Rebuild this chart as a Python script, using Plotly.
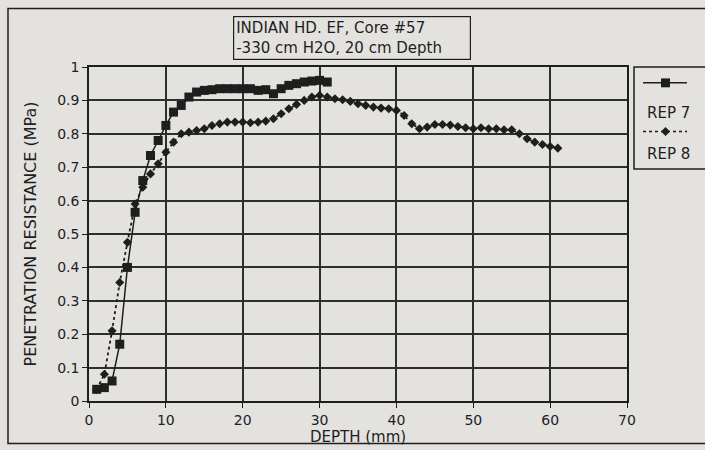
import plotly.graph_objects as go

# ---- data ----
rep7_depth = [1, 2, 3, 4, 5, 6, 7, 8, 9, 10, 11, 12, 13, 14, 15, 16, 17, 18, 19, 20,
              21, 22, 23, 24, 25, 26, 27, 28, 29, 30, 31]
rep7_res = [0.035, 0.04, 0.06, 0.17, 0.40, 0.565, 0.66, 0.735, 0.78, 0.825, 0.865,
            0.885, 0.91, 0.925, 0.93, 0.932, 0.935, 0.935, 0.935, 0.935, 0.935,
            0.93, 0.932, 0.92, 0.935, 0.945, 0.95, 0.955, 0.958, 0.96, 0.955]

rep8_depth = list(range(1, 62))
rep8_res = [0.035, 0.08, 0.21, 0.355, 0.475, 0.59, 0.64, 0.68, 0.71, 0.745,
            0.775, 0.80, 0.805, 0.81, 0.815, 0.825, 0.83, 0.835, 0.835, 0.835,
            0.833, 0.835, 0.838, 0.845, 0.86, 0.875, 0.888, 0.90, 0.91, 0.915,
            0.91, 0.905, 0.902, 0.897, 0.89, 0.885, 0.88, 0.877, 0.875, 0.87,
            0.855, 0.83, 0.815, 0.82, 0.828, 0.828, 0.826, 0.822, 0.818, 0.815,
            0.818, 0.815, 0.815, 0.812, 0.812, 0.80, 0.785, 0.775, 0.768, 0.762,
            0.757]

series_names = ["REP 7", "REP 8"]
title_lines = ["INDIAN HD. EF, Core #57", "-330 cm H2O, 20 cm Depth"]
x_title = "DEPTH (mm)"
y_title = "PENETRATION RESISTANCE (MPa)"

BG = "#e4e2de"
INK = "#1e1e1e"
FONT = "DejaVu Sans"

fig = go.Figure()
fig.add_trace(go.Scatter(x=rep7_depth, y=rep7_res, mode="lines+markers",
                         name=series_names[0],
                         line=dict(color=INK, width=1.5),
                         marker=dict(symbol="square", size=9, color=INK)))
fig.add_trace(go.Scatter(x=rep8_depth, y=rep8_res, mode="lines+markers",
                         name=series_names[1],
                         line=dict(color=INK, width=1.8, dash="dot"),
                         marker=dict(symbol="diamond", size=7, color=INK)))

# plot area pixel geometry
L, R, T, B = 89, 627, 67, 404
W, H = 705, 450
def px(x):
    return (x - L) / (R - L)
def py(y):
    return (B - y) / (B - T)

shapes = []
# outer frame
shapes.append(dict(type="rect", xref="paper", yref="paper",
                   x0=px(8), x1=px(712), y0=py(447), y1=py(8),
                   line=dict(color=INK, width=1.5)))
# legend box
shapes.append(dict(type="rect", xref="paper", yref="paper",
                   x0=px(634), x1=px(712), y0=py(170), y1=py(67),
                   line=dict(color=INK, width=1.5)))
# legend samples
shapes.append(dict(type="line", xref="paper", yref="paper",
                   x0=px(643), x1=px(687), y0=py(83), y1=py(83),
                   line=dict(color=INK, width=1.5)))
shapes.append(dict(type="rect", xref="paper", yref="paper",
                   x0=px(661), x1=px(670), y0=py(87.5), y1=py(78.5),
                   fillcolor=INK, line=dict(color=INK, width=0)))
shapes.append(dict(type="line", xref="paper", yref="paper",
                   x0=px(643), x1=px(687), y0=py(132), y1=py(132),
                   line=dict(color=INK, width=1.5, dash="dot")))
shapes.append(dict(type="path", xref="paper", yref="paper",
                   path="M {a},{b} L {c},{d} L {a},{e} L {f},{d} Z".format(
                       a=px(665.5), b=py(127.5), c=px(670), d=py(132), e=py(136.5), f=px(661)),
                   fillcolor=INK, line=dict(color=INK, width=0)))

annotations = [
    dict(text="<br>".join(title_lines), xref="paper", yref="paper",
         x=px(352), y=py(38), xanchor="center", yanchor="middle", showarrow=False,
         font=dict(family=FONT, size=15, color=INK), align="left", width=232,
         bordercolor=INK, borderwidth=1.2, borderpad=2, bgcolor=BG),
    dict(text=series_names[0], xref="paper", yref="paper", x=px(668), y=py(113),
         xanchor="center", yanchor="middle", showarrow=False,
         font=dict(family=FONT, size=15, color=INK)),
    dict(text=series_names[1], xref="paper", yref="paper", x=px(668), y=py(155),
         xanchor="center", yanchor="middle", showarrow=False,
         font=dict(family=FONT, size=15, color=INK)),
]

axis_common = dict(showline=True, linecolor=INK, linewidth=1.6, mirror=True,
                   showgrid=True, gridcolor="#2e2e2e", gridwidth=1.5,
                   zeroline=False, ticks="outside", ticklen=5, tickcolor=INK,
                   tickfont=dict(family=FONT, size=14, color=INK))

fig.update_layout(
    width=W, height=H,
    margin=dict(l=L, r=W - R, t=T, b=H - B),
    paper_bgcolor=BG, plot_bgcolor=BG,
    showlegend=False,
    font=dict(family=FONT, size=14, color=INK),
    shapes=shapes, annotations=annotations,
    xaxis=dict(range=[0, 70], dtick=10, tick0=0,
               title=dict(text=x_title, standoff=0,
                          font=dict(family=FONT, size=15, color=INK)),
               **axis_common),
    yaxis=dict(range=[0, 1], dtick=0.1, tick0=0,
               title=dict(text=y_title, standoff=17,
                          font=dict(family=FONT, size=16, color=INK)),
               **axis_common),
)

fig.write_html("out.html",
               config={"displayModeBar": False},
               post_script="document.body.style.margin='0';"
                           "document.body.style.background='" + BG + "';"
                           "document.body.style.overflow='hidden';")
